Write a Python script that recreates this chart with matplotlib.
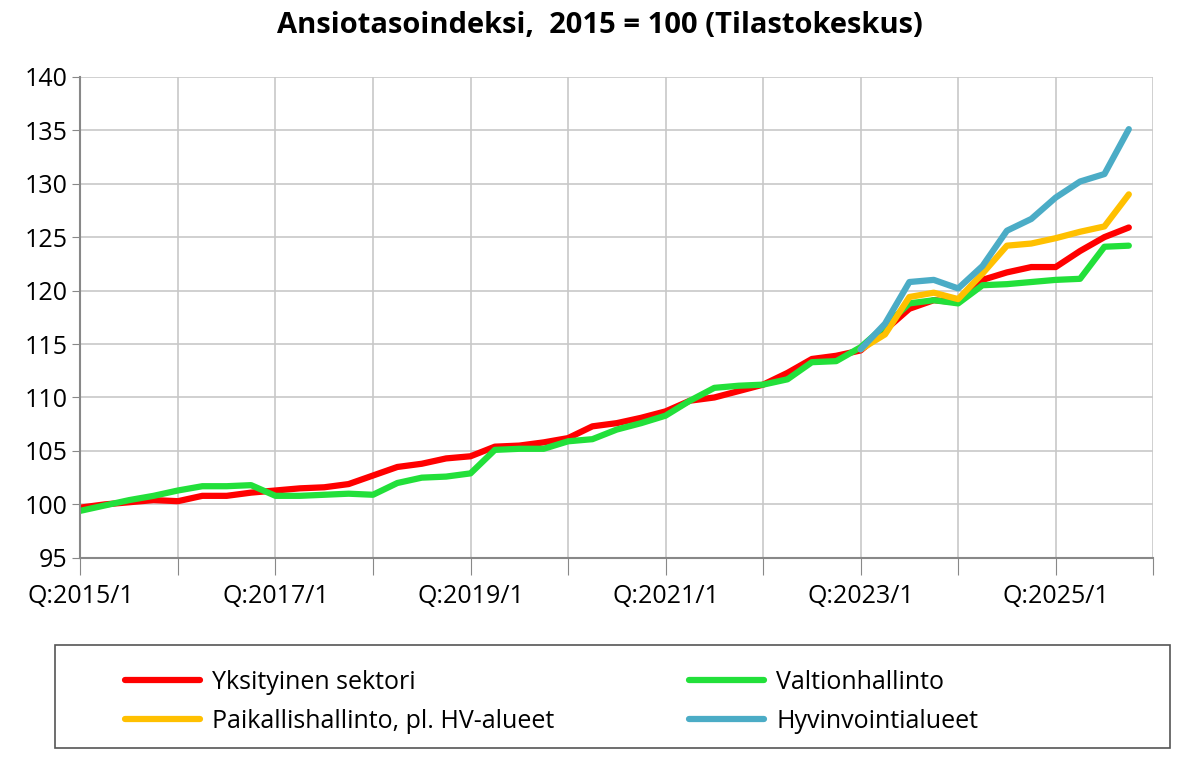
import matplotlib
matplotlib.use("Agg")
import matplotlib.pyplot as plt
from matplotlib.patches import Rectangle
import numpy as np

plt.rcParams['font.family'] = ['Open Sans', 'DejaVu Sans']

quarters = [f"Q:{y}/{q}" for y in range(2015, 2026) for q in range(1, 5)]
yksityinen = [99.7, 100.0, 100.2, 100.4, 100.3, 100.8, 100.8, 101.1, 101.3, 101.5, 101.6, 101.9,
              102.7, 103.5, 103.8, 104.3, 104.5, 105.4, 105.5, 105.8, 106.2, 107.3, 107.6, 108.1,
              108.7, 109.7, 110.0, 110.6, 111.2, 112.3, 113.6, 113.9, 114.4, 116.3, 118.3, 119.1,
              118.9, 121.0, 121.7, 122.2, 122.2, 123.7, 125.0, 125.9]
valtio = [99.4, 99.9, 100.4, 100.8, 101.3, 101.7, 101.7, 101.8, 100.8, 100.8, 100.9, 101.0,
          100.9, 102.0, 102.5, 102.6, 102.9, 105.1, 105.2, 105.2, 105.9, 106.1, 107.0, 107.6,
          108.3, 109.7, 110.9, 111.1, 111.2, 111.7, 113.3, 113.4, 114.7, 116.7, 118.8, 119.1,
          118.8, 120.5, 120.6, 120.8, 121.0, 121.1, 124.1, 124.2]
paikallis = [None]*32 + [114.5, 115.9, 119.4, 119.8, 119.2, 121.6, 124.2, 124.4, 124.9, 125.5, 126.0, 129.0]
hyvinvointi = [None]*32 + [114.5, 116.9, 120.8, 121.0, 120.2, 122.3, 125.6, 126.7, 128.7, 130.2, 130.9, 135.1]

def arr(v):
    return np.array([np.nan if x is None else x for x in v], dtype=float)

fig = plt.figure(figsize=(12, 7.6), dpi=100)
ax = fig.add_axes([0.067, 0.266, 0.894, 0.633])
x = np.arange(len(quarters))
lw = 4.5
ax.plot(x, arr(yksityinen), color='#ff0000', lw=lw, label='Yksityinen sektori', solid_capstyle='round')
ax.plot(x, arr(valtio), color='#22e03a', lw=lw, label='Valtionhallinto', solid_capstyle='round')
ax.plot(x, arr(paikallis), color='#ffc000', lw=lw, label='Paikallishallinto, pl. HV-alueet', solid_capstyle='round')
ax.plot(x, arr(hyvinvointi), color='#4bacc6', lw=lw, label='Hyvinvointialueet', solid_capstyle='round')

ax.set_xlim(0, 44)
ax.set_ylim(95, 140)
ax.set_yticks(range(95, 141, 5))
ax.set_xticks(range(0, 45, 4))
ax.set_xticklabels([])
for i in range(0, 44, 8):
    ax.text(i, -0.055, quarters[i], transform=ax.get_xaxis_transform(), ha='center', va='top', fontsize=18)
ax.tick_params(axis='x', which='major', length=12, direction='out', color='#888888')
ax.tick_params(axis='y', labelsize=18, length=6, color='#888888')
ax.grid(True, which='major', color='#c8c8c8', lw=1.2)
for s in ['top', 'right']:
    ax.spines[s].set_visible(False)
for s in ['left', 'bottom']:
    ax.spines[s].set_color('#888888')
    ax.spines[s].set_linewidth(1.5)

fig.suptitle('Ansiotasoindeksi,  2015 = 100 (Tilastokeskus)', fontsize=21, fontweight='bold', y=0.985)

fig.patches.append(Rectangle((0.046, 0.016), 0.929, 0.135, transform=fig.transFigure,
                             fill=False, edgecolor='#555555', lw=1.2))
h, l = ax.get_legend_handles_labels()
for col, idxs, x0 in [(0, [0, 2], 0.085), (1, [1, 3], 0.555)]:
    fig.legend([h[i] for i in idxs], [l[i] for i in idxs], loc='upper left',
               bbox_to_anchor=(x0, 0.148), fontsize=18, frameon=False,
               handlelength=3.0, handletextpad=0.5, labelspacing=0.55)
fig.savefig('out.png', dpi=100)
